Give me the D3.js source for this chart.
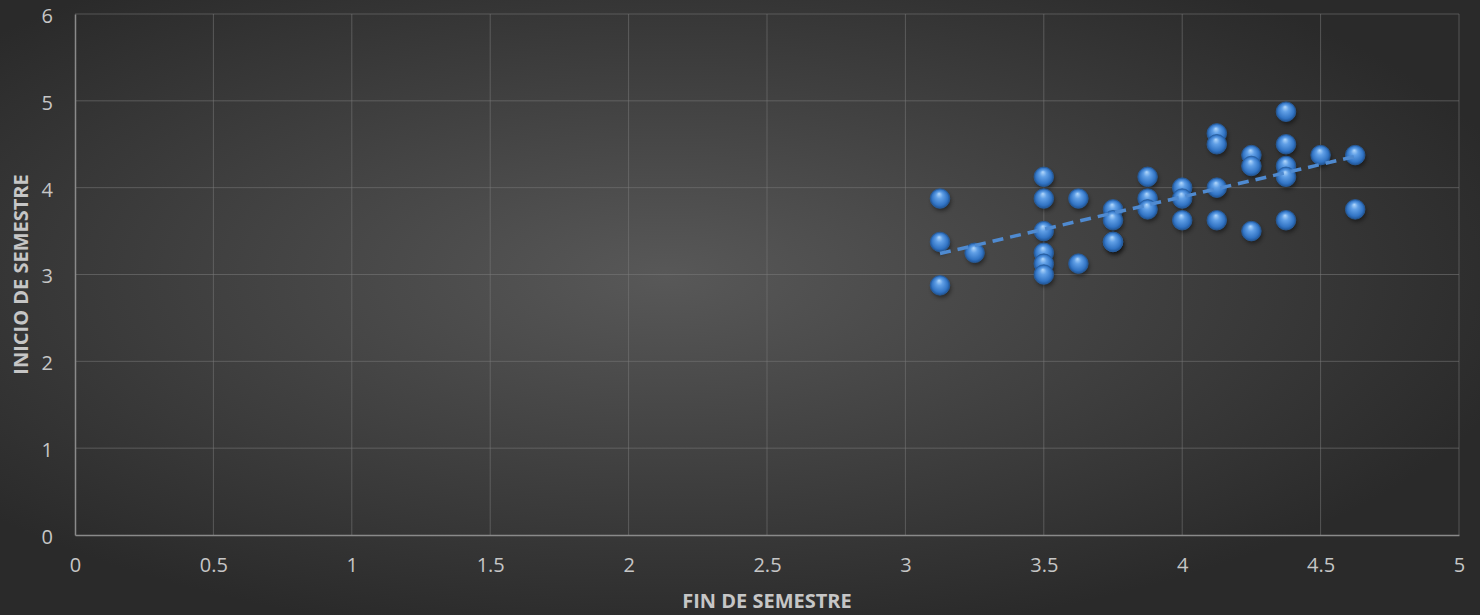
<!DOCTYPE html>
<html><head><meta charset="utf-8">
<script src="https://cdn.jsdelivr.net/npm/d3@7/dist/d3.min.js"></script>
<style>html,body{margin:0;padding:0;background:#2b2b2b;}svg{display:block;}</style>
</head><body>
<svg id="chart" width="1480" height="615"></svg>
<script>
const xTicks = [0, 0.5, 1, 1.5, 2, 2.5, 3, 3.5, 4, 4.5, 5];
const yTicks = [0, 1, 2, 3, 4, 5, 6];
const finSemestre = [3.125,3.125,3.125,3.25,3.5,3.5,3.5,3.5,3.5,3.5,3.625,3.625,3.75,3.75,3.75,3.75,3.875,3.875,3.875,4,4,4,4.125,4.125,4.125,4.125,4.25,4.25,4.25,4.375,4.375,4.375,4.375,4.375,4.5,4.625,4.625];
const inicioSemestre = [3.875,3.375,2.875,3.25,4.125,3.875,3.5,3.25,3.125,3.0,3.875,3.125,3.75,3.625,3.375,3.375,4.125,3.875,3.75,4.0,3.875,3.625,4.625,4.5,4.0,3.625,4.375,4.25,3.5,4.875,4.5,4.25,4.125,3.625,4.375,4.375,3.75];
const xTitle = "FIN DE SEMESTRE";
const yTitle = "INICIO DE SEMESTRE";

const W = 1480, H = 615;
const m = {left: 75, right: 21, top: 14, bottom: 80};
const svg = d3.select("#chart");
const defs = svg.append("defs");

const bg = defs.append("radialGradient").attr("id","bg")
  .attr("cx","0.45").attr("cy","0.45").attr("r","0.6");
bg.append("stop").attr("offset","0").attr("stop-color","#585858");
bg.append("stop").attr("offset","1").attr("stop-color","#2a2a2a");
svg.append("rect").attr("width",W).attr("height",H).attr("fill","url(#bg)");

const ball = defs.append("radialGradient").attr("id","ball")
  .attr("cx","0.5").attr("cy","0.5").attr("r","0.5").attr("fx","0.45").attr("fy","0.25");
ball.append("stop").attr("offset","0").attr("stop-color","#b3d8fb");
ball.append("stop").attr("offset","0.35").attr("stop-color","#609fe6");
ball.append("stop").attr("offset","0.8").attr("stop-color","#3274c4");
ball.append("stop").attr("offset","1").attr("stop-color","#1f5394");

const shadowF = defs.append("filter").attr("id","sh").attr("x","-50%").attr("y","-50%").attr("width","200%").attr("height","200%");
shadowF.append("feGaussianBlur").attr("stdDeviation","2");

const x = d3.scaleLinear().domain([0,5]).range([m.left, W - m.right]);
const y = d3.scaleLinear().domain([0,6]).range([H - m.bottom, m.top]);

const fontFam = "'Open Sans', 'Noto Sans', sans-serif";

// gridlines
const g = svg.append("g");
g.selectAll(".vg").data(xTicks.slice(1)).join("line")
  .attr("x1",d=>x(d)).attr("x2",d=>x(d)).attr("y1",y(0)).attr("y2",y(6))
  .attr("stroke","#7a7a7a").attr("stroke-opacity",0.55).attr("stroke-width",1);
g.selectAll(".hg").data(yTicks.slice(1)).join("line")
  .attr("x1",x(0)).attr("x2",x(5)).attr("y1",d=>y(d)).attr("y2",d=>y(d))
  .attr("stroke","#7a7a7a").attr("stroke-opacity",0.55).attr("stroke-width",1);

// axes
const xAxis = svg.append("g").attr("transform",`translate(0,${y(0)})`)
  .call(d3.axisBottom(x).tickValues(xTicks).tickSize(0).tickPadding(23).tickFormat(d=>String(d)));
const yAxis = svg.append("g").attr("transform",`translate(${x(0)},0)`)
  .call(d3.axisLeft(y).tickValues(yTicks).tickSize(0).tickPadding(22).tickFormat(d=>String(d)));
[xAxis,yAxis].forEach(a=>{
  a.select(".domain").attr("stroke","#8a8a8a").attr("stroke-width",1.5);
  a.selectAll("text").attr("fill","#c6c6c6").attr("font-size","20px").attr("font-family",fontFam);
});
yAxis.selectAll("text").attr("dy","0.42em");

// trend line (least squares)
const n = finSemestre.length;
const mx = d3.mean(finSemestre), my = d3.mean(inicioSemestre);
let sxy = 0, sxx = 0;
for (let i=0;i<n;i++){ sxy += (finSemestre[i]-mx)*(inicioSemestre[i]-my); sxx += (finSemestre[i]-mx)**2; }
const slope = sxy/sxx, icpt = my - slope*mx;
const x0 = d3.min(finSemestre), x1 = d3.max(finSemestre);

// points
const pts = svg.append("g");
const data = finSemestre.map((v,i)=>({x:v,y:inicioSemestre[i]}));
pts.selectAll(".s").data(data).join("circle")
  .attr("cx",d=>x(d.x)+1.5).attr("cy",d=>y(d.y)+3).attr("r",9.5)
  .attr("fill","#000").attr("opacity",0.45).attr("filter","url(#sh)");
pts.selectAll(".b").data(data).join("circle")
  .attr("cx",d=>x(d.x)).attr("cy",d=>y(d.y)).attr("r",9.8)
  .attr("fill","url(#ball)").attr("stroke","#2a5f9f").attr("stroke-width",0.8);

svg.append("line")
  .attr("x1",x(x0)).attr("y1",y(slope*x0+icpt)).attr("x2",x(x1)).attr("y2",y(slope*x1+icpt))
  .attr("stroke","#4f8ad0").attr("stroke-width",3.5).attr("stroke-dasharray","11,7");

// titles
svg.append("text").attr("x",(x(0)+x(5))/2).attr("y",608).attr("text-anchor","middle")
  .attr("fill","#c6c6c6").attr("font-weight","bold").attr("font-size","20px").attr("font-family",fontFam).text(xTitle);
svg.append("text").attr("transform",`translate(28,${(y(0)+y(6))/2}) rotate(-90)`).attr("text-anchor","middle")
  .attr("fill","#c6c6c6").attr("font-weight","bold").attr("font-size","20px").attr("font-family",fontFam).text(yTitle);
</script>
</body></html>
